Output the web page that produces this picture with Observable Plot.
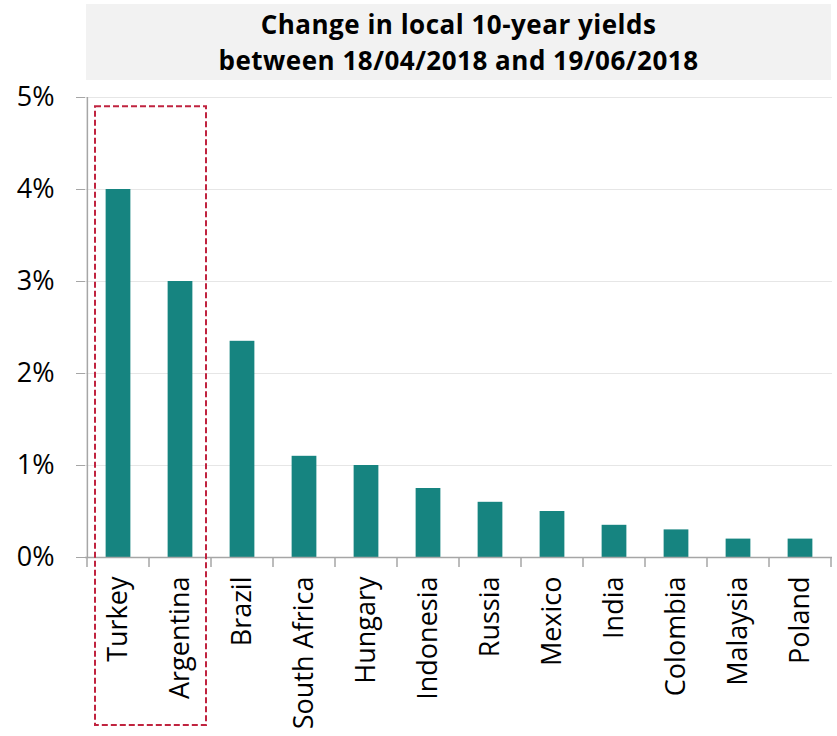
<!DOCTYPE html>
<html>
<head>
<meta charset="utf-8">
<script src="https://cdn.jsdelivr.net/npm/d3@7"></script>
<script src="https://cdn.jsdelivr.net/npm/@observablehq/plot@0.6"></script>
<style>
  html, body { margin: 0; padding: 0; background: #fff; }
  #wrap { position: relative; width: 837px; height: 736px; }
  #title {
    position: absolute; left: 86px; top: 4px; width: 745px; height: 76px;
    background: #f2f2f2; font-family: "Open Sans", sans-serif; font-weight: 700;
    font-size: 26px; line-height: 36px; text-align: center; color: #000;
    display: flex; flex-direction: column; justify-content: center; letter-spacing: 0.5px;
  }
  #chart { position: absolute; left: 0; top: 0; }
</style>
</head>
<body>
<div id="wrap">
  <div id="chart"></div>
  <div id="title">Change in local 10-year yields<br>between 18/04/2018 and 19/06/2018</div>
</div>
<script>
const countries = ["Turkey", "Argentina", "Brazil", "South Africa", "Hungary", "Indonesia", "Russia", "Mexico", "India", "Colombia", "Malaysia", "Poland"];
const yields = [4.0, 3.0, 2.35, 1.1, 1.0, 0.75, 0.6, 0.5, 0.35, 0.3, 0.2, 0.2];
const yTicks = [0, 1, 2, 3, 4, 5];
const highlighted = ["Turkey", "Argentina"];
const highlightTop = 4.9;

const data = countries.map((c, i) => ({country: c, value: yields[i]}));

const W = 837, H = 736;
const mL = 85, mR = 5, mT = 97, mB = 179;
const bw = (W - mL - mR) / countries.length;
const inset = (bw - 25) / 2;

const chart = Plot.plot({
  width: W, height: H,
  marginLeft: mL, marginRight: mR, marginTop: mT, marginBottom: mB,
  style: {fontFamily: "'Open Sans', sans-serif", fontSize: "22px", color: "#000", background: "transparent"},
  x: {domain: countries, padding: 0, label: null},
  y: {domain: [0, 5], label: null},
  marks: [
    Plot.gridY(yTicks, {stroke: "#e6e6e6", strokeOpacity: 1, strokeWidth: 1}),
    Plot.barY(data, {x: "country", y: "value", fill: "#168480", insetLeft: inset, insetRight: inset}),
    Plot.ruleY([0], {stroke: "#a6a6a6", strokeWidth: 1.5}),
    Plot.ruleX([countries[0]], {dx: -bw / 2, y1: 0, y2: 5, stroke: "#a6a6a6", strokeWidth: 1.5}),
    Plot.axisY({ticks: yTicks, tickFormat: d => d + "%", tickSize: 9, tickPadding: 22, stroke: "#a6a6a6", fontSize: "27px"}),
    Plot.axisX({tickSize: 0, tickRotate: -90, tickPadding: 19, fontSize: "27px"})
  ]
});
document.getElementById("chart").appendChild(chart);

const xs = chart.scale("x");
const ys = chart.scale("y");
const svg = d3.select(chart);
// category boundary ticks below the axis
const bounds = countries.map(c => xs.apply(c)).concat([xs.apply(countries[countries.length - 1]) + xs.bandwidth]);
svg.append("g").selectAll("line").data(bounds).join("line")
  .attr("x1", d => d).attr("x2", d => d)
  .attr("y1", ys.apply(0)).attr("y2", ys.apply(0) + 10)
  .attr("stroke", "#a6a6a6").attr("stroke-width", 1.5);
// highlight box around first two categories
const hx1 = xs.apply(highlighted[0]) + 8;
const hx2 = xs.apply(highlighted[highlighted.length - 1]) + xs.bandwidth - 5;
svg.append("rect")
  .attr("x", hx1).attr("y", ys.apply(highlightTop))
  .attr("width", hx2 - hx1).attr("height", (H - 11) - ys.apply(highlightTop))
  .attr("fill", "none").attr("stroke", "#c0233f").attr("stroke-width", 2)
  .attr("stroke-dasharray", "6,3");
</script>
</body>
</html>
